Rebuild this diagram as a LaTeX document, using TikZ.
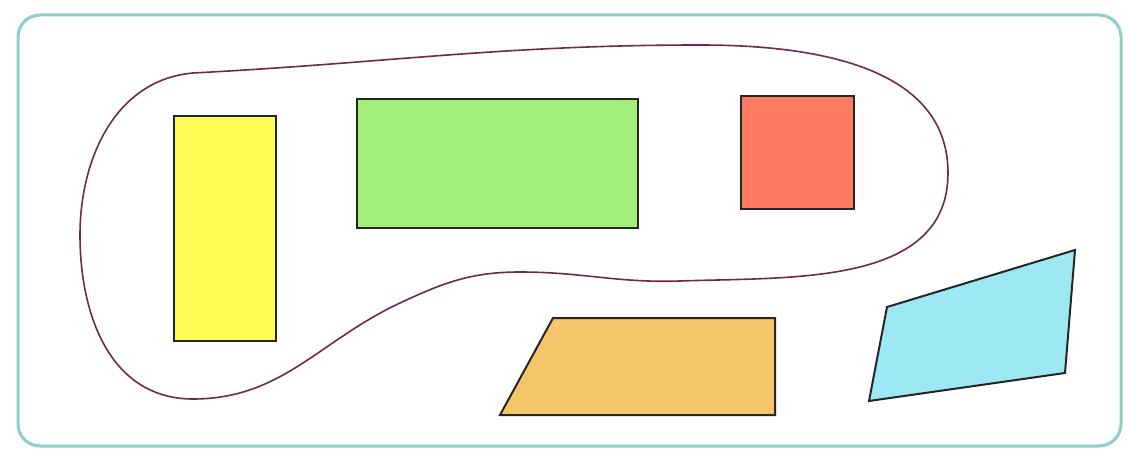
\documentclass[tikz,border=0pt]{standalone}
\begin{document}
\begin{tikzpicture}[x=1pt,y=-1pt,
  figbox/.style={draw=black!85,line width=2pt,line join=miter},
  frame/.style={draw=frameC,line width=3pt,rounded corners=22pt},
  blob/.style={draw=blobC,line width=1.6pt,line join=round}]
\definecolor{frameC}{HTML}{8CCFCB}
\definecolor{blobC}{HTML}{6E2A48}
\definecolor{yel}{HTML}{FFFB55}
\definecolor{grn}{HTML}{A2F07A}
\definecolor{redC}{HTML}{FF7A60}
\definecolor{ora}{HTML}{F5C56A}
\definecolor{cya}{HTML}{9CE9F4}
\useasboundingbox[fill=white] (0,0) rectangle (1128,452);
\draw[frame] (18,15) rectangle (1121,446);
\coordinate (b1) at (193,73);
\coordinate (b2) at (700,45);
\coordinate (b3) at (948,173);
\coordinate (b4) at (680,281);
\coordinate (b5) at (520,272);
\coordinate (b6) at (400,303);
\coordinate (b7) at (193,399);
\coordinate (b8) at (80,235);
\draw[blob] (b1) to[out=3,in=180] (b2) to[out=0,in=90] (b3)
  to[out=-90,in=2] (b4) to[out=182,in=0] (b5) to[out=180,in=25] (b6)
  to[out=205,in=0] (b7) to[out=180,in=-90,looseness=1.05] (b8)
  to[out=90,in=185,looseness=1.0] (b1) -- cycle;
\node[figbox,fill=yel,inner sep=0,minimum width=102pt,minimum height=225pt] (y) at (225,228.5) {};
\node[figbox,fill=grn,inner sep=0,minimum width=281pt,minimum height=129pt] (g) at (497.5,163.5) {};
\node[figbox,fill=redC,inner sep=0,minimum width=113pt,minimum height=113pt] (r) at (797.5,152.5) {};
\draw[figbox,fill=ora] (553,318) -- (775,318) -- (775,415) -- (500,415) -- cycle;
\draw[figbox,fill=cya] (887,307) -- (1075,250) -- (1065,373) -- (869,401) -- cycle;
\end{tikzpicture}
\end{document}
